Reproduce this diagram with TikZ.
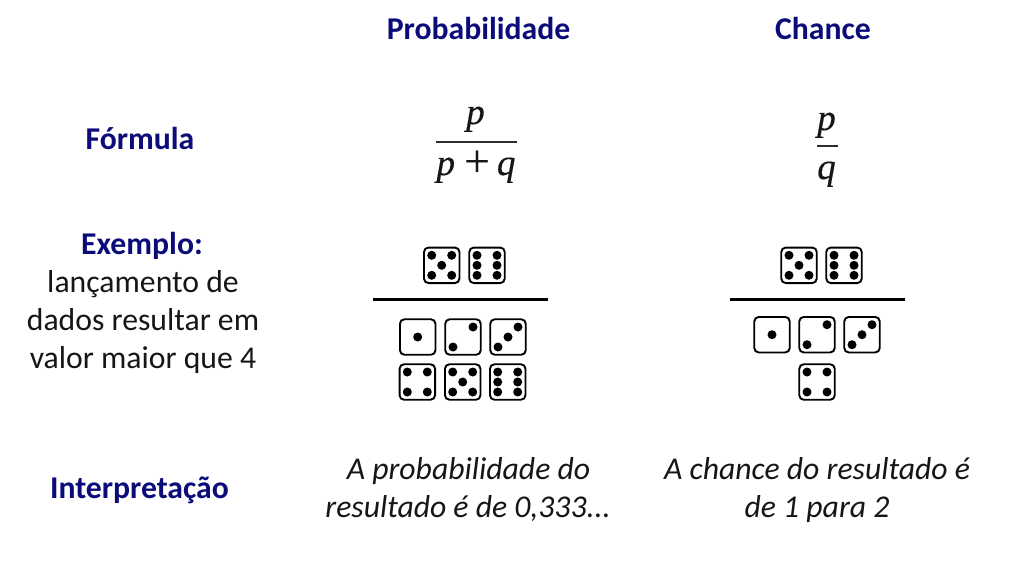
\documentclass[tikz,border=0pt]{standalone}
\usepackage{fontspec}
\setmainfont{Carlito}
\newfontfamily\ffm[FakeBold=0.3]{Liberation Serif}
\definecolor{tit}{HTML}{0B0B7A}
\definecolor{txt}{HTML}{161616}
\tikzset{x=1pt,y=-1pt,
 titulo/.style={text=tit,font=\fontsize{31.7}{36}\selectfont\bfseries,inner sep=0pt,anchor=base},
 corpo/.style={text=txt,font=\fontsize{31.7}{36}\selectfont,inner sep=0pt,anchor=base},
 interp/.style={text=txt,font=\fontsize{31.7}{36}\selectfont\itshape,inner sep=0pt,anchor=base},
 formula/.style={text=txt,font=\fontsize{37}{40}\selectfont\ffm\itshape,inner sep=0pt,anchor=base},
 dadobox/.style={draw=black,line width=1.9pt,rounded corners=4.5pt,minimum size=35.5pt,inner sep=0pt,fill=white},
 pip/.style={fill=black,draw=none},
 barra/.style={line width=2.6pt,draw=black},
 fbarra/.style={line width=2pt,draw=txt!90!white}}
\newcommand{\pp}[3]{\fill[pip] (#1.center) ++(#2,#3) circle[radius=4.5pt];}
\newcommand{\dado}[4]{%
 \node[dadobox] (#1) at (#2,#3) {};
 \ifcase#4\or
  \pp{#1}{0}{0}\or
  \pp{#1}{-10}{10}\pp{#1}{10}{-10}\or
  \pp{#1}{-10}{10}\pp{#1}{10}{-10}\pp{#1}{0}{0}\or
  \pp{#1}{-10}{10}\pp{#1}{10}{-10}\pp{#1}{-10}{-10}\pp{#1}{10}{10}\or
  \pp{#1}{-10}{10}\pp{#1}{10}{-10}\pp{#1}{-10}{-10}\pp{#1}{10}{10}\pp{#1}{0}{0}\or
  \pp{#1}{-10}{10}\pp{#1}{10}{-10}\pp{#1}{-10}{-10}\pp{#1}{10}{10}\pp{#1}{-10}{0}\pp{#1}{10}{0}\fi}
\begin{document}
\begin{tikzpicture}
\useasboundingbox[fill=white] (0,0) rectangle (1024,575);
\node[titulo] (hprob) at (478.5,39.5) {Probabilidade};
\node[titulo] (hchance) at (823,39.5) {Chance};
\node[titulo] (lform) at (140,149) {Fórmula};
\node[titulo] (lex) at (142,254) {Exemplo:};
\node[corpo] (lex1) at (143,292) {lançamento de};
\node[corpo] (lex2) at (143,330) {dados resultar em};
\node[corpo] (lex3) at (143,368) {valor maior que 4};
\node[titulo] (lint) at (139.5,498.5) {Interpretação};
% formulas
\node[formula] (fp1) at (475.5,124) {p};
\coordinate (fa1) at (436,141.5);
\coordinate (fb1) at (517,141.5);
\draw[fbarra] (fa1) -- (fb1);
\node[formula] (fd1) at (476,175) {p\hspace{9pt}{\fontsize{46}{46}\selectfont\upshape\raisebox{-1.5pt}{+}}\hspace{7pt}q};
\node[formula] (fp2) at (826.5,130) {p};
\coordinate (fa2) at (817,146);
\coordinate (fb2) at (838,146);
\draw[fbarra] (fa2) -- (fb2);
\node[formula] (fd2) at (826.5,179) {q};
% dados probabilidade
\dado{a5}{441.7}{265.3}{5}
\dado{a6}{487}{265.3}{6}
\coordinate (ba) at (373,299.7);
\coordinate (bb) at (548,299.7);
\draw[barra] (ba) -- (bb);
\dado{b1}{417.7}{337}{1}
\dado{b2}{463}{337}{2}
\dado{b3}{508}{337}{3}
\dado{b4}{417.3}{382}{4}
\dado{b5}{462.7}{382}{5}
\dado{b6}{507.7}{382}{6}
% dados chance
\dado{c5}{799}{265.3}{5}
\dado{c6}{844}{265.3}{6}
\coordinate (ca) at (730,299.7);
\coordinate (cb) at (905,299.7);
\draw[barra] (ca) -- (cb);
\dado{d1}{772}{334.7}{1}
\dado{d2}{817}{334.7}{2}
\dado{d3}{862}{334.7}{3}
\dado{d4}{817}{382}{4}
% interpretacao
\node[interp] (ip1) at (468.5,479) {A probabilidade do};
\node[interp] (ip2) at (468,517.5) {resultado é de 0,333...};
\node[interp] (ic1) at (817,479) {A chance do resultado é};
\node[interp] (ic2) at (817,517.5) {de 1 para 2};
\end{tikzpicture}
\end{document}
